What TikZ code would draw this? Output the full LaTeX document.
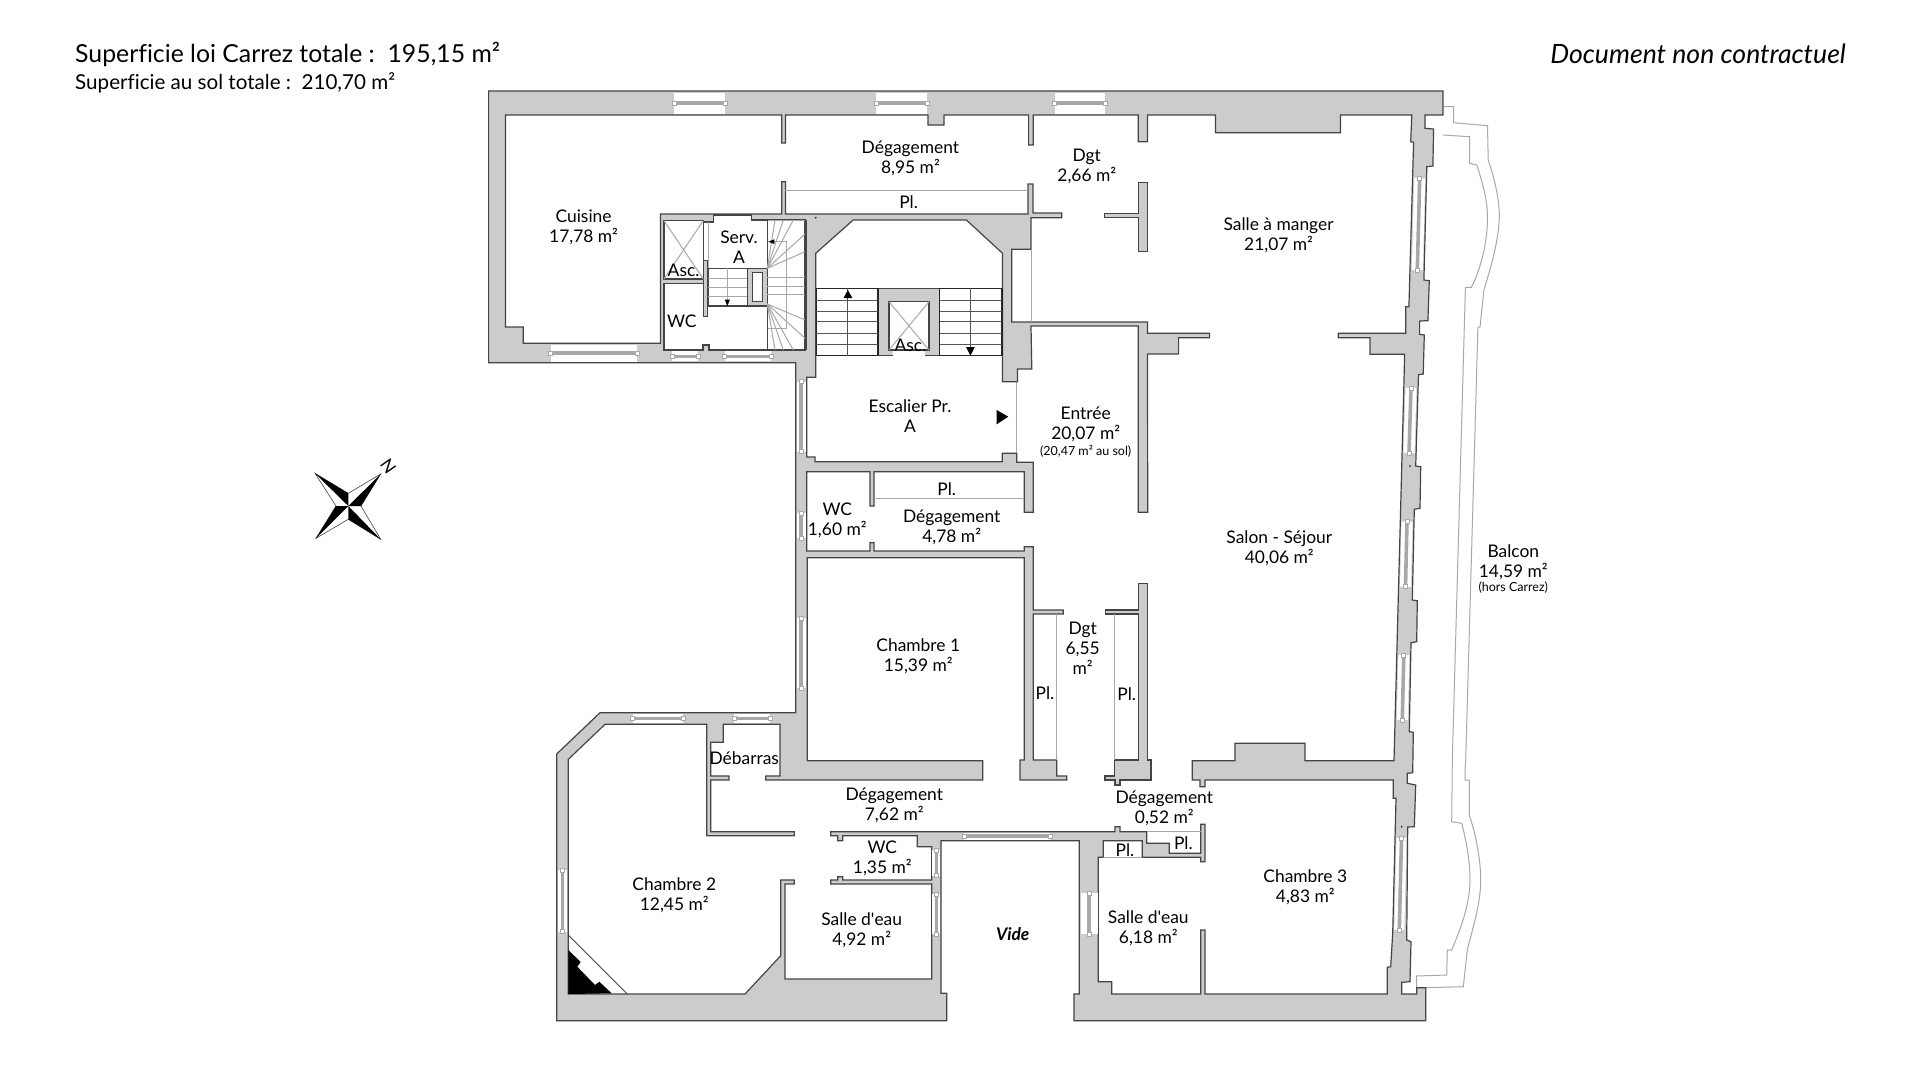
\documentclass[tikz,border=0pt]{standalone}
\usepackage{fontspec}
\setmainfont{Lato}[Ligatures=NoCommon]
\definecolor{wallgray}{HTML}{CCCCCC}
\definecolor{walledge}{HTML}{444444}
\definecolor{thingray}{HTML}{A8A8A8}
\definecolor{stairgray}{HTML}{555555}
\tikzset{
	wall/.style={draw=walledge, fill=wallgray, line width=1.2pt, line join=miter},
	floorzone/.style={draw=walledge, fill=white, line width=1.2pt, line join=miter},
	flight/.style={draw=black!85, fill=white, line width=1.5pt},
	thinline/.style={draw=thingray, line width=1pt},
	stairline/.style={draw=stairgray, line width=1pt},
	balconyline/.style={draw=thingray, line width=1pt},
	winbar/.style={draw=thingray, line width=3.6pt},
	winend/.style={draw=thingray, fill=white, line width=0.7pt},
	lbl/.style={align=center, inner sep=0pt, yshift=-1.2pt, font=\fontsize{17.4}{20}\selectfont},
	smalllbl/.style={align=center, inner sep=0pt, yshift=-1.2pt, font=\fontsize{12.5}{15}\selectfont}
}
\begin{document}
\begin{tikzpicture}[x=1pt, y=-1pt]
	\useasboundingbox (0,0) rectangle (1920,1080);
	\fill[white] (0,0) rectangle (1920,1080);
	\draw[balconyline] (1442.9,106.7) -- (1453.6,106.7) -- (1453.6,122.7) -- (1487.5,125.7) -- (1488.2,160) .. controls (1495,180) and (1499.3,200) .. (1499.3,215) .. controls (1499.3,240) and (1490,270) .. (1483.9,290) -- (1480,327) -- (1477.9,327.3) -- (1465.7,760) -- (1465,770) -- (1465,780) -- (1469.3,780) -- (1469.3,815) .. controls (1476,835) and (1480.7,860) .. (1480.7,880) .. controls (1480.7,905) and (1472,930) .. (1467.3,950) -- (1463.3,986.7) -- (1425.7,987.7);
	\draw[balconyline] (1442.9,135) -- (1469.6,136.7) -- (1469.6,163.3) -- (1476.8,165) .. controls (1485,190) and (1487.5,205) .. (1487.5,216.7) .. controls (1487.5,245) and (1480,270) .. (1471.4,287.3) -- (1465.4,287.3) -- (1452.3,760) -- (1451.7,821.7) -- (1461.7,823.3) .. controls (1466,840) and (1470,860) .. (1470,880) .. controls (1470,905) and (1460,930) .. (1451.7,950) -- (1447.3,950) -- (1446.7,975) -- (1416.7,976) -- (1416.7,987.7);
	\draw[wall] (488.6,91) -- (1442.9,91) -- (1442.9,115) -- (1425,115) -- (1425,128.3) -- (1433.6,129) -- (1432.9,166) -- (1426.8,166.7) -- (1423.9,280) -- (1429.3,280.7) -- (1427.9,320.7) -- (1419.6,321) -- (1419.6,334.3) -- (1424.3,335) -- (1423.2,374) -- (1418.6,374.7) -- (1418.3,380) -- (1415.7,466) -- (1420.7,466.7) -- (1420,508.3) -- (1414.3,509.3) -- (1412.3,600) -- (1417.3,600.7) -- (1416.7,641.7) -- (1411,642.7) -- (1409.3,731.7) -- (1413.3,732.3) -- (1412.7,772.7) -- (1407.3,773.3) -- (1407.3,783.3) -- (1415.7,785) -- (1414.3,826.7) -- (1407.7,827) -- (1406.7,940) -- (1411,941.7) -- (1410,981.7) -- (1401.7,982.3) -- (1401.7,994) -- (1416.7,994) -- (1416.7,987.7) -- (1425.7,987.7) -- (1425.7,1020.7) -- (1074,1020.7) -- (1074,994) -- (1079.3,994) -- (1079.3,840.7) -- (941,840.7) -- (941,993.3) -- (946.7,993.3) -- (946.7,1020.7) -- (556.7,1020.7) -- (556.7,754) -- (600,712.7) -- (795.7,712.7) -- (795.7,362.7) -- (488.6,362.7) -- cycle;
	\draw[floorzone] (505.4,115) -- (781.8,115) -- (781.8,143) -- (785.4,143) -- (785.4,115) -- (928,115) -- (928,125) -- (944,125) -- (944,115) -- (1028.6,115) -- (1028.6,145) -- (1033.2,145) -- (1033.2,115) -- (1138.2,115) -- (1138.2,141.7) -- (1147.5,141.7) -- (1147.5,115) -- (1215.4,115) -- (1215.4,132.7) -- (1340.4,132.7) -- (1340.4,115) -- (1411.8,115) -- (1410.7,141.7) -- (1413.6,142.3) -- (1408.9,306.7) -- (1405.7,306.7) -- (1405.7,333.3) -- (1338.2,333.3) -- (1338.2,337.7) -- (1370,337.7) -- (1370,354.3) -- (1404.6,354.3) -- (1404,380) -- (1394,760.7) -- (1305,760.7) -- (1305,743.3) -- (1235,743.3) -- (1235,760.7) -- (1192.3,760.7) -- (1192.3,780) -- (1200,780) -- (1200,786.7) -- (1205,786.7) -- (1205,780) -- (1393.3,780) -- (1393.3,798.3) -- (1396,798.3) -- (1392.7,933) -- (1390.7,966.7) -- (1387.3,967.3) -- (1387.3,994) -- (1205,994) -- (1205,930) -- (1200.7,930) -- (1200.7,994) -- (1111.7,994) -- (1111.7,981.7) -- (1098.3,981.7) -- (1098.3,857.3) -- (1103.3,857.3) -- (1103.3,840.7) -- (1142.3,840.7) -- (1142.3,857.3) -- (1200.7,857.3) -- (1200.7,861.7) -- (1205,861.7) -- (1205,824.3) -- (1200.7,824.3) -- (1200.7,853.3) -- (1169.3,853.3) -- (1169.3,843.3) -- (1146.7,843.3) -- (1146.7,831.7) -- (1120,831.7) -- (1120,826.7) -- (1115,826.7) -- (1115,831.7) -- (830.7,831.7) -- (830.7,835.7) -- (837.7,835.7) -- (837.7,840.7) -- (842.7,840.7) -- (842.7,835.7) -- (917.3,835.7) -- (917.3,846.7) -- (931.7,846.7) -- (931.7,880) -- (842.7,880) -- (842.7,876.7) -- (837.7,876.7) -- (837.7,880) -- (830.7,880) -- (830.7,884) -- (931.7,884) -- (931.7,979) -- (785,979) -- (785,884) -- (794.3,884) -- (794.3,880) -- (780.7,880) -- (780.7,955.7) -- (745,994) -- (568.3,994) -- (568.3,759.3) -- (605,724.3) -- (706.7,724.3) -- (706.7,835.7) -- (794.3,835.7) -- (794.3,831.7) -- (710.7,831.7) -- (710.7,780) -- (729,780) -- (729,776) -- (710.7,776) -- (710.7,742.3) -- (723.3,742.3) -- (723.3,724.3) -- (780,724.3) -- (780,776) -- (765.7,776) -- (765.7,780) -- (982.7,780) -- (982.7,760.7) -- (807.3,760.7) -- (807.3,557.7) -- (1024.3,557.7) -- (1024.3,760) -- (1020,760) -- (1020,780) -- (1066.7,780) -- (1066.7,776) -- (1056.7,776) -- (1056.7,760) -- (1033.3,760) -- (1033.3,614) -- (1063.3,614) -- (1063.3,610) -- (1033.3,610) -- (1033.3,546.7) -- (1024.3,546.7) -- (1024.3,551) -- (874,551) -- (874,542.7) -- (870,542.7) -- (870,551) -- (806.7,551) -- (806.7,471.7) -- (870,471.7) -- (870,506) -- (874,506) -- (874,471.7) -- (1024.3,471.7) -- (1024.3,512.3) -- (1033.3,512.3) -- (1033.3,462.3) -- (1016.7,462.3) -- (1016.7,453.3) -- (1002.3,453.3) -- (1002.3,461.7) -- (815,461.7) -- (815,457) -- (806.7,457) -- (806.8,377.3) -- (815.7,377.3) -- (815.7,253.3) -- (853.2,220) -- (966.4,220) -- (1002.5,253.3) -- (1002.5,381.7) -- (1017.5,381.7) -- (1017.5,369) -- (1031.8,369) -- (1031,326) -- (1138.2,326) -- (1138.3,512.3) -- (1147.7,512.3) -- (1147.5,354) -- (1178.6,354) -- (1178.6,337.7) -- (1209.6,337.7) -- (1209.6,333.3) -- (1147.5,333.3) -- (1147.5,322) -- (1011.8,322) -- (1011.8,249.3) -- (1031,249.3) -- (1031,217.7) -- (1061.8,217.7) -- (1061.8,213) -- (1033,213) -- (1033,184) -- (1028,184) -- (1028,214) -- (785.4,214) -- (785.4,181.7) -- (781.8,181.7) -- (781.8,214) -- (660.4,214) -- (660.4,343.3) -- (523.2,343.3) -- (523.2,327) -- (505.4,327) -- cycle;
	\draw[wall] (1138.2,182.3) -- (1147.5,182.3) -- (1147.5,251.7) -- (1138.2,251.7) -- (1138.2,217.7) -- (1104.3,217.7) -- (1104.3,213.3) -- (1138.2,213.3) -- cycle;
	\draw[wall] (1138.3,583.3) -- (1147.7,583.3) -- (1147.7,760) -- (1151,760) -- (1151,780) -- (1120,780) -- (1120,785) -- (1115,785) -- (1115,780) -- (1105,780) -- (1105,776) -- (1114.3,776) -- (1114.3,760) -- (1138.3,760) -- (1138.3,614) -- (1105.7,614) -- (1105.7,610) -- (1138.3,610) -- cycle;
	\draw[floorzone] (664,220.7) -- (703.3,220.7) -- (703.3,279) -- (664,279) -- cycle;
	\draw[floorzone] (703.3,222) -- (713.3,222) -- (713.3,215) -- (751.7,215) -- (751.7,220) -- (805,220) -- (805,350) -- (709,350) -- (709,345) -- (703,345) -- (703,350) -- (664,350) -- (664,283.3) -- (703.3,283.3) -- cycle;
	\fill[white] (703.9,222.7) rectangle (713,260);
	\draw[wall] (703.3,260.7) rectangle (707.3,316.7);
	\draw[thinline] (708.3,222) -- (708.3,268.3);
	\draw[thinline] (664,220.7) -- (703.3,279) (703.3,220.7) -- (664,279);
	\draw[thinline] (767.3,220) -- (805,220);
	\draw[walledge, line width=1.2pt] (767.3,220) -- (767.3,350);
	\draw[walledge, line width=2pt] (805.5,220) -- (805.5,350);
	\draw[floorzone] (708.3,268.3) rectangle (747.7,306);
	\foreach \y in {278,287.3,296.7}
		\draw[thinline] (708.3,\y) -- (747.7,\y);
	\draw[thinline] (727.3,268.3) -- (727.3,300);
	\fill[black] (727.3,306) -- (724.7,299.5) -- (730,299.5) -- cycle;
	\draw[wall] (747.7,268.3) rectangle (767.3,306);
	\draw[floorzone] (752.3,272.3) rectangle (762.7,301.7);
	\foreach \y in {277.3,286,294.7}
		\draw[thinline] (767.3,\y) -- (805,\y);
	\foreach \xe/\ye in {805/251.7,793.3/220,783.3/220,775/220,805/234}
		\draw[thinline] (767.3,268.3) -- (\xe,\ye);
	\foreach \xe/\ye in {805/320,805/338.3,793.3/350,783.3/350,775/350}
		\draw[thinline] (767.3,304) -- (\xe,\ye);
	\draw[thinline] (774,241.7) -- (786.7,241.7) -- (786.7,328.3) -- (768,328.3);
	\fill[black] (768.3,241.7) -- (774.3,239.3) -- (774.3,244) -- cycle;
	\draw[wall] (878.2,288.3) rectangle (939.6,355.7);
	\draw[flight] (816.4,288.3) rectangle (878.2,355.7);
	\draw[flight] (939.6,288.3) rectangle (1002.1,355.7);
	\foreach \x/\xb in {816.4/878.2,939.6/1002.1}
		\foreach \y in {300,311,321.7,333.3,344.3}
			\draw[stairline] (\x,\y) -- (\xb,\y);
	\draw[stairline] (847.9,288.3) -- (847.9,355.7);
	\draw[stairline] (970.4,288.3) -- (970.4,355.7);
	\fill[black] (847.9,290) -- (843.5,298) -- (852.3,298) -- cycle;
	\fill[black] (970.4,355.7) -- (966,347) -- (974.8,347) -- cycle;
	\draw[floorzone] (889,301.7) rectangle (929,350);
	\fill[white] (892.5,350.7) rectangle (925,356.5);
	\draw[thinline] (889,301.7) -- (929,350) (929,301.7) -- (889,350);
	\foreach \xa/\ya/\xb/\yb in {785.4/190/1028.2/190,1031.4/249.3/1031.4/322,1016.7/381.7/1016.7/453.3,874/498/1024.3/498,1056.7/614/1056.7/760,1114/614/1114/760,1146.7/831.4/1200.7/831.4,1103.3/857.3/1142.3/857.3}
		\draw[thinline] (\xa,\ya) -- (\xb,\yb);
	\foreach \xa/\ya/\xb/\yb/\w in {674/103.2/725/103.2/21,876.4/103.2/927/103.2/21,1054.6/103.2/1105.4/103.2/21,550.7/353/637/353/17,672/356.4/698/356.4/10,724.6/356.4/771/356.4/10,801/381.7/801/451.7/9,801/513/801/538/9,801/618/801/688/9,632.7/718.5/683.3/718.5/9,734/718.5/770/718.5/9,562.5/870/562.5/931.7/9,936.3/850/936.3/875.7/8,936.3/894/936.3/934/8,964/836.2/1050/836.2/7,1089/893/1089/934/17,1419.7/178.3/1417.3/270/11,1411/388/1409/453/11,1407/521.7/1405.5/586.7/11,1403.8/655/1402.3/720/11,1401.5/838/1399.3/930/10}{
		\draw[white, line width=\w pt] (\xa,\ya) -- (\xb,\yb);
		\draw[winbar] (\xa,\ya) -- (\xb,\yb);
		\draw[winend] ({\xa-2},{\ya-2}) rectangle ({\xa+2},{\ya+2});
		\draw[winend] ({\xb-2},{\yb-2}) rectangle ({\xb+2},{\yb+2});
	}
	\foreach \x/\y in {815.7/217.7,1410/466,1401.7/826.7}
		\fill[black] (\x,\y) circle (0.9);
	\fill[black] (568.3,950) -- (580.7,962) -- (577.3,966.7) -- (595,985) -- (599.3,981.7) -- (611.7,993.3) -- (568.3,994) -- cycle;
	\draw[walledge, line width=1pt] (568.3,935) -- (627.3,994);
	\fill[black] (996.7,410) -- (1008.3,416.7) -- (996.7,424.3) -- cycle;
	\draw[walledge, line width=0.6pt, fill=white] (315,473.3) -- (348.3,493.3) -- (380.7,474) -- (361,506) -- (380.7,539.3) -- (348.3,519.3) -- (316,538.3) -- (336,506) -- cycle;
	\fill[black] (315,473.3) -- (348.3,493.3) -- (348.3,506) -- cycle;
	\fill[black] (380.7,474) -- (361,506) -- (348.3,506) -- cycle;
	\fill[black] (380.7,539.3) -- (348.3,519.3) -- (348.3,506) -- cycle;
	\fill[black] (316,538.3) -- (336,506) -- (348.3,506) -- cycle;
	\node[lbl, rotate=-55] (north) at (388.3,465) {N};
	\node[anchor=west, inner sep=0pt, font=\fontsize{24.8}{29}\selectfont] (carrez) at (75,54) {Superficie loi Carrez totale :\ \ 195,15 m²};
	\node[anchor=west, inner sep=0pt, font=\fontsize{20.6}{24}\selectfont] (ausol) at (75,83) {Superficie au sol totale :\ \ 210,70 m²};
	\node[anchor=east, inner sep=0pt, font=\fontsize{26.6}{30}\selectfont\itshape] (contract) at (1846,54) {Document non contractuel};
	\node[lbl] (deg1) at (910.4,157.5) {Dégagement\\8,95 m²};
	\node[lbl] (cuisine) at (583.6,226) {Cuisine\\17,78 m²};
	\node[lbl] (pl1) at (908.6,201) {Pl.};
	\node[lbl] (serv) at (739,246) {Serv.\\A};
	\node[lbl] (asc1) at (683.6,269) {Asc.};
	\node[lbl] (wc1) at (681.8,320) {WC};
	\node[lbl] (dgt1) at (1086.8,165.7) {Dgt\\2,66 m²};
	\node[lbl] (manger) at (1278.6,234.5) {Salle à manger\\21,07 m²};
	\node[lbl] (asc2) at (910.4,344.3) {Asc.};
	\node[lbl] (escalier) at (910,415) {Escalier Pr.\\A};
	\node[lbl] (entree) at (1085.7,423) {Entrée\\20,07 m²};
	\node[smalllbl] (entreesol) at (1085.7,450) {(20,47 m² au sol)};
	\node[lbl] (pl2) at (946.7,488.3) {Pl.};
	\node[lbl] (wc2) at (837.3,519) {WC\\1,60 m²};
	\node[lbl] (deg2) at (951.7,526) {Dégagement\\4,78 m²};
	\node[lbl] (ch1) at (918.3,655) {Chambre 1\\15,39 m²};
	\node[lbl] (dgt2) at (1082.7,647) {Dgt\\6,55\\m²};
	\node[lbl] (pl3) at (1045,692.3) {Pl.};
	\node[lbl] (pl4) at (1126.7,693.3) {Pl.};
	\node[lbl] (debarras) at (744.3,757.3) {Débarras};
	\node[lbl] (deg3) at (894.3,803.7) {Dégagement\\7,62 m²};
	\node[lbl] (ch2) at (674.3,894) {Chambre 2\\12,45 m²};
	\node[lbl] (wc3) at (882.3,856.7) {WC\\1,35 m²};
	\node[lbl] (eau1) at (861.7,929) {Salle d\textquotesingle eau\\4,92 m²};
	\node[lbl, font=\fontsize{17.4}{20}\selectfont\bfseries\itshape] (vide) at (1012.7,933.3) {Vide};
	\node[lbl] (deg4) at (1164.3,807.3) {Dégagement\\0,52 m²};
	\node[lbl] (pl5) at (1125,849) {Pl.};
	\node[lbl] (pl6) at (1183.3,842.3) {Pl.};
	\node[lbl] (ch3) at (1305.3,886) {Chambre 3\\4,83 m²};
	\node[lbl] (eau2) at (1148.3,927.5) {Salle d\textquotesingle eau\\6,18 m²};
	\node[lbl] (salon) at (1279.3,547) {Salon - Séjour\\40,06 m²};
	\node[lbl] (balcon) at (1513.3,560.7) {Balcon\\14,59 m²};
	\node[smalllbl] (horscarrez) at (1513.3,586.7) {(hors Carrez)};
\end{tikzpicture}
\end{document}
